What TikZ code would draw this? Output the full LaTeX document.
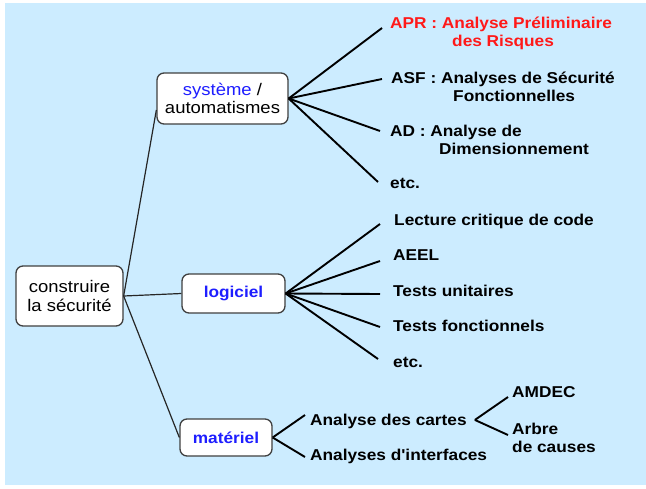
\documentclass[tikz,border=0pt]{standalone}
\usepackage{fontspec}
\setmainfont{Liberation Sans}[FakeStretch=1.1, Ligatures=TeXOff]
\definecolor{bg}{RGB}{204,236,255}
\definecolor{myblue}{RGB}{30,30,255}
\definecolor{myred}{RGB}{255,25,25}
\newcommand\lstrut{\rule{0pt}{15pt}}
\begin{document}
\begin{tikzpicture}[x=1pt,y=-1pt,
  box/.style={draw=black!75, line width=1.3pt, fill=white, rounded corners=7pt,
    align=center, inner sep=0pt, font=\fontsize{16.8}{18.5}\selectfont},
  boldbox/.style={box, text=myblue, font=\fontsize{15.7}{18}\selectfont\bfseries},
  leaf/.style={anchor=north west, inner sep=0pt, align=left,
    font=\fontsize{15.7}{18}\selectfont\bfseries},
  trunk/.style={draw=black!85, line width=1.2pt},
  fan/.style={draw=black, line width=1.9pt}]
\useasboundingbox (0,0) rectangle (646,488);
\fill[bg] (5,3) rectangle (646,485);

% boxes
\node[box, minimum width=107pt, minimum height=60pt] (root) at (69.5,296) {construire\\la sécurité};
\node[box, minimum width=131pt, minimum height=51pt] (sys) at (222.5,98.5) {\textcolor{myblue}{système} /\\automatismes};
\node[boldbox, minimum width=103pt, minimum height=39pt] (log) at (233.5,293.5) {logiciel};
\node[boldbox, minimum width=92pt, minimum height=37pt] (mat) at (226,437.5) {matériel};

% leaves
\node[leaf, text=myred] (apr) at (390,13.6) {\lstrut APR : Analyse Préliminaire\\\hspace*{62pt}des Risques};
\node[leaf] (asf) at (391,68.6) {\lstrut ASF : Analyses de Sécurité\\\hspace*{62pt}Fonctionnelles};
\node[leaf] (ad) at (390,121.6) {\lstrut AD : Analyse de\\\hspace*{49pt}Dimensionnement};
\node[leaf] (etca) at (390,173.6) {\lstrut etc.};
\node[leaf] (lec) at (394,210.6) {\lstrut Lecture critique de code};
\node[leaf] (aeel) at (393,245.6) {\lstrut AEEL};
\node[leaf] (tu) at (393,281.6) {\lstrut Tests unitaires};
\node[leaf] (tf) at (393,316.6) {\lstrut Tests fonctionnels};
\node[leaf] (etcb) at (393,352.6) {\lstrut etc.};
\node[leaf] (cartes) at (310,410.6) {\lstrut Analyse des cartes};
\node[leaf] (inter) at (310,445.6) {\lstrut Analyses d'interfaces};
\node[leaf] (amdec) at (512,382.6) {\lstrut AMDEC};
\node[leaf] (arbre) at (512,419.6) {\lstrut Arbre\\de causes};

% connectors
\draw[trunk] (root.east) -- ([yshift=-11.5pt]sys.west);
\draw[trunk] (root.east) -- (log.west);
\draw[trunk] (root.east) -- (mat.west);

\draw[fan] (sys.east) -- ([xshift=-8pt,yshift=-14.4pt]apr.north west);
\draw[fan] (sys.east) -- ([xshift=-9pt,yshift=-10.4pt]asf.north west);
\draw[fan] (sys.east) -- ([xshift=-10pt,yshift=-9.4pt]ad.north west);
\draw[fan] (sys.east) -- ([xshift=-12pt,yshift=-8.4pt]etca.north west);

\draw[fan] (log.east) -- ([xshift=-14pt,yshift=-13.4pt]lec.north west);
\draw[fan] (log.east) -- ([xshift=-13pt,yshift=-15.4pt]aeel.north west);
\draw[fan] (log.east) -- ([xshift=-13pt,yshift=-12.4pt]tu.north west);
\draw[fan] (log.east) -- ([xshift=-13pt,yshift=-10.4pt]tf.north west);
\draw[fan] (log.east) -- ([xshift=-15pt,yshift=-6.4pt]etcb.north west);

\draw[fan] (mat.east) -- ([xshift=-5pt,yshift=-4.4pt]cartes.north west);
\draw[fan] (mat.east) -- ([xshift=-5pt,yshift=-11.4pt]inter.north west);

\draw[fan] ([xshift=8pt]cartes.east) -- ([xshift=-4pt,yshift=-14.4pt]amdec.north west);
\draw[fan] ([xshift=8pt]cartes.east) -- ([xshift=-4pt,yshift=-15.4pt]arbre.north west);
\end{tikzpicture}
\end{document}
